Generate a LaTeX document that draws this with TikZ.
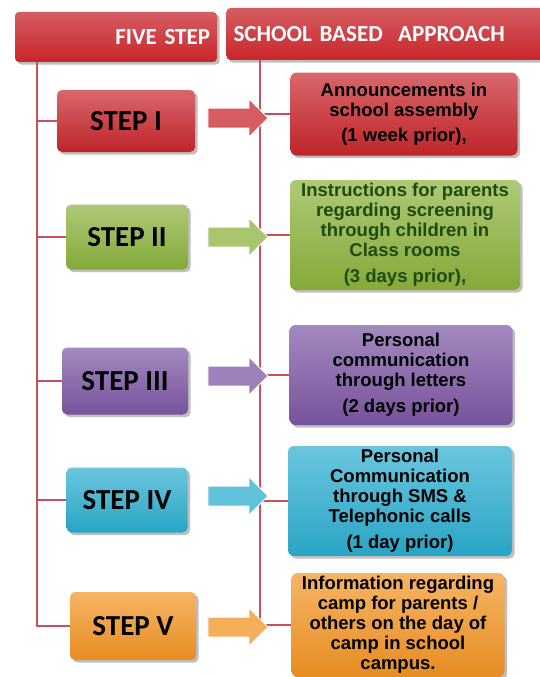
\documentclass[tikz,border=0pt]{standalone}
\usepackage{fontspec}
\setmainfont{Liberation Sans}
\newfontfamily\stepfont{Carlito}
\usetikzlibrary{shapes.arrows,shadows}

\definecolor{linered}{HTML}{C9505C}
\definecolor{boxred}{HTML}{C8262C}
\definecolor{boxgreen}{HTML}{8CB23C}
\definecolor{boxpurple}{HTML}{7C57A4}
\definecolor{boxcyan}{HTML}{2BADCF}
\definecolor{boxorange}{HTML}{F29423}
\definecolor{textgreen}{HTML}{1E4A0E}

\tikzset{
  conn/.style={linered, line width=1.2pt},
  header/.style={rounded corners=4pt, minimum height=50pt, text=white,
    font=\stepfont\bfseries\fontsize{23}{25}\selectfont,
    top color=boxred!75!white, bottom color=boxred, drop shadow},
  stepbox/.style={rounded corners=5pt, font=\stepfont\bfseries\fontsize{29}{32}\selectfont,
    top color=#1!70!white, bottom color=#1!95!black, drop shadow},
  infobox/.style={rounded corners=6pt, align=center,
    font=\bfseries\fontsize{18.5}{20}\selectfont,
    top color=#1!70!white, bottom color=#1!95!black, drop shadow},
  blockarrow/.style={single arrow, minimum height=60pt, minimum width=37pt,
    single arrow head extend=9pt, inner sep=9.5pt, fill=#1!75!white, draw=white, thick}
}

\begin{document}
\begin{tikzpicture}[x=1pt,y=-1pt]
\useasboundingbox[fill=white] (0,0) rectangle (540,677);

% headers
\node(five) [header, minimum width=202pt, text width=188pt, align=right] at (116,37) {FIVE STEP};
\node(appr) [header, minimum width=321pt, text width=307pt, align=left, minimum height=52pt] at (387,34) {SCHOOL BASED\ \ APPROACH};

% steps
\node(s1) [stepbox=boxred, minimum width=138pt, minimum height=62pt] at (126,121) {STEP I};
\node(s2) [stepbox=boxgreen, minimum width=122pt, minimum height=65pt] at (127,237) {STEP II};
\node(s3) [stepbox=boxpurple, minimum width=126pt, minimum height=67pt] at (125,381) {STEP III};
\node(s4) [stepbox=boxcyan, minimum width=121pt, minimum height=65pt] at (127,500) {STEP IV};
\node(s5) [stepbox=boxorange, minimum width=126pt, minimum height=68pt] at (133,626) {STEP V};

% approach boxes
\node(b1) [infobox=boxred, minimum width=227pt, minimum height=83pt] at (404,114)
  {Announcements in\\school assembly\\[5pt](1 week prior),};
\node(b2) [infobox=boxgreen, text=textgreen, minimum width=230pt, minimum height=110pt] at (405,235)
  {Instructions for parents\\regarding screening\\through children in\\Class rooms\\[6pt](3 days prior),};
\node(b3) [infobox=boxpurple, minimum width=223pt, minimum height=100pt] at (401,375)
  {Personal\\communication\\through letters\\[6pt](2 days prior)};
\node(b4) [infobox=boxcyan, minimum width=224pt, minimum height=108pt] at (400,501)
  {Personal\\Communication\\through SMS \&\\Telephonic calls\\[6pt](1 day prior)};
\node(b5) [infobox=boxorange, minimum width=213pt, minimum height=102pt] at (398,625)
  {Information regarding\\camp for parents /\\others on the day of\\camp in school\\campus.};

% connectors
\coordinate(lx) at (37,62);
\coordinate(rx) at (260,60);
\draw[conn] (lx) |- (s1.west);
\draw[conn] (lx) |- (s2.west);
\draw[conn] (lx) |- (s3.west);
\draw[conn] (lx) |- (s4.west);
\draw[conn] (lx) |- (s5.west);
\draw[conn] (rx) |- (b1.west);
\draw[conn] (rx) |- (b2.west);
\draw[conn] (rx) |- (b3.west);
\draw[conn] (rx) |- (b4.west);
\draw[conn] (rx) |- (b5.west);

% block arrows
\node(a1) [blockarrow=boxred] at (233,118) {};
\node(a2) [blockarrow=boxgreen] at (233,237) {};
\node(a3) [blockarrow=boxpurple] at (233,376) {};
\node(a4) [blockarrow=boxcyan] at (233,496) {};
\node(a5) [blockarrow=boxorange] at (233,627) {};
\end{tikzpicture}
\end{document}
